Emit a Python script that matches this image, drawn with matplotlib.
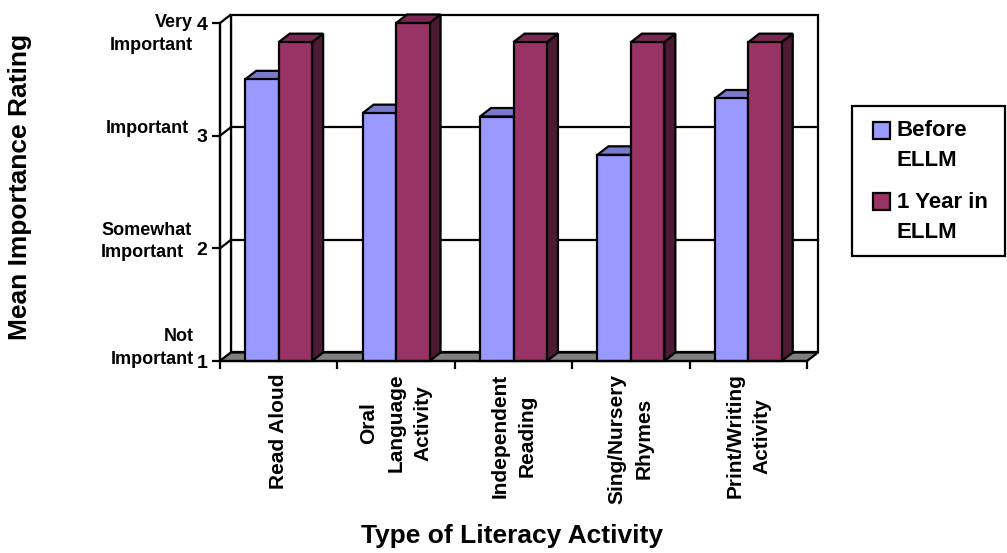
import numpy as np
import matplotlib
matplotlib.use("Agg")
import matplotlib.pyplot as plt
from matplotlib.patches import Polygon, Rectangle

# Chart data
categories = ["Read Aloud", "Oral\nLanguage\nActivity", "Independent\nReading",
              "Sing/Nursery\nRhymes", "Print/Writing\nActivity"]
before_ellm = [3.50, 3.20, 3.17, 2.83, 3.33]
year_in_ellm = [3.83, 4.00, 3.83, 3.83, 3.83]
series_names = ["Before\nELLM", "1 Year in\nELLM"]
rating_ticks = [1, 2, 3, 4]

plt.rcParams['font.family'] = ['Liberation Sans', 'DejaVu Sans']
plt.rcParams['font.weight'] = 'bold'

W, H = 1007, 553
fig = plt.figure(figsize=(W / 100, H / 100), dpi=100)

# front plane of the 3D box, in pixels
left_px, right_px, bot_px, top_px = 220, 807, 361, 23
ax = fig.add_axes([left_px / W, (H - bot_px) / H,
                   (right_px - left_px) / W, (bot_px - top_px) / H])
ax.set_facecolor('none')
n = len(categories)
ax.set_xlim(0, n)
ax.set_ylim(1, 4)

# depth offset converted to data units
DX = 11 / ((right_px - left_px) / n)
DY = 8.5 / ((bot_px - top_px) / 3)

blue_front, blue_top, blue_side = '#9999FF', '#7A7ACC', '#5C5C99'
red_front, red_top, red_side = '#993366', '#7A2952', '#4D1A33'
lw = 1.6

def poly(pts, fc, z=1, ec='black'):
    ax.add_patch(Polygon(pts, closed=True, facecolor=fc, edgecolor=ec,
                         linewidth=lw, clip_on=False, zorder=z, joinstyle='miter'))

# back wall, left wall, floor
poly([(DX, 1 + DY), (n + DX, 1 + DY), (n + DX, 4 + DY), (DX, 4 + DY)], 'white', z=0.5)
poly([(0, 1), (DX, 1 + DY), (DX, 4 + DY), (0, 4)], 'white', z=0.5)
for v in rating_ticks[1:-1]:
    ax.plot([DX, n + DX], [v + DY, v + DY], color='black', lw=lw, clip_on=False, zorder=0.6)
    ax.plot([0, DX], [v, v + DY], color='black', lw=lw, clip_on=False, zorder=0.6)
poly([(0, 1), (n, 1), (n + DX, 1 + DY), (DX, 1 + DY)], '#808080', z=0.7)

# bars
bw = 0.285
def bar3d(x0, v, front, top, side):
    poly([(x0 + bw, 1), (x0 + bw + DX, 1 + DY), (x0 + bw + DX, v + DY), (x0 + bw, v)], side)
    poly([(x0, v), (x0 + bw, v), (x0 + bw + DX, v + DY), (x0 + DX, v + DY)], top)
    poly([(x0, 1), (x0 + bw, 1), (x0 + bw, v), (x0, v)], front)

centers = np.arange(n) + 0.5
for c, b, r in zip(centers, before_ellm, year_in_ellm):
    bar3d(c - bw, b, blue_front, blue_top, blue_side)
    bar3d(c, r, red_front, red_top, red_side)

# axes lines and ticks
for s in ['top', 'right']:
    ax.spines[s].set_visible(False)
ax.spines['left'].set_linewidth(lw)
ax.spines['bottom'].set_linewidth(lw)
ax.set_yticks(rating_ticks)
ax.set_yticklabels([str(t) for t in rating_ticks], fontsize=14, fontweight='bold')
ax.tick_params(axis='y', length=6, width=lw, pad=3)
ax.set_xticks(np.arange(n + 1))
ax.set_xticklabels([])
ax.tick_params(axis='x', which='major', length=6, width=lw)
ax.set_xticks(centers, minor=True)
ax.set_xticklabels(categories, minor=True, rotation=90, fontsize=15,
                   fontweight='bold', va='top', ha='center', multialignment='center',
                   linespacing=1.55)
ax.tick_params(axis='x', which='minor', length=0, pad=9)

# verbal rating labels (offset in pixels from the tick)
word_labels = [("Very\nImportant", 4, -27, -11, 'right'),
               ("Important", 3, -31, 7, 'right'),
               ("Somewhat\nImportant", 2, -119, 7, 'left'),
               ("Not\nImportant", 1, -26, 13, 'right')]
for txt, v, dx, dy, ha in word_labels:
    ax.annotate(txt, xy=(0, v), xycoords=ax.get_yaxis_transform(),
                xytext=(dx, dy), textcoords='offset pixels', ha=ha, va='center',
                multialignment=ha, fontsize=13, fontweight='bold', linespacing=1.4)

# axis titles
fig.text(512 / W, 1 - 536 / H, "Type of Literacy Activity", ha='center', va='center',
         fontsize=19, fontweight='bold')
fig.text(20 / W, 1 - 187 / H, "Mean Importance Rating", ha='center', va='center',
         rotation=90, fontsize=19, fontweight='bold')

# legend
fig.add_artist(Rectangle((852 / W, 1 - 256 / H), 153 / W, 150 / H, transform=fig.transFigure,
                         facecolor='white', edgecolor='black', linewidth=lw))
for (name, fc, yc) in [(series_names[0], blue_front, 130), (series_names[1], red_front, 202)]:
    fig.add_artist(Rectangle((873 / W, 1 - (yc + 8.5) / H), 17 / W, 17 / H,
                             transform=fig.transFigure, facecolor=fc,
                             edgecolor='black', linewidth=lw))
    fig.text(897 / W, 1 - (yc - 10) / H, name, ha='left', va='top', fontsize=16,
             fontweight='bold', linespacing=1.55)

fig.savefig("out.png", dpi=100, facecolor='white')
